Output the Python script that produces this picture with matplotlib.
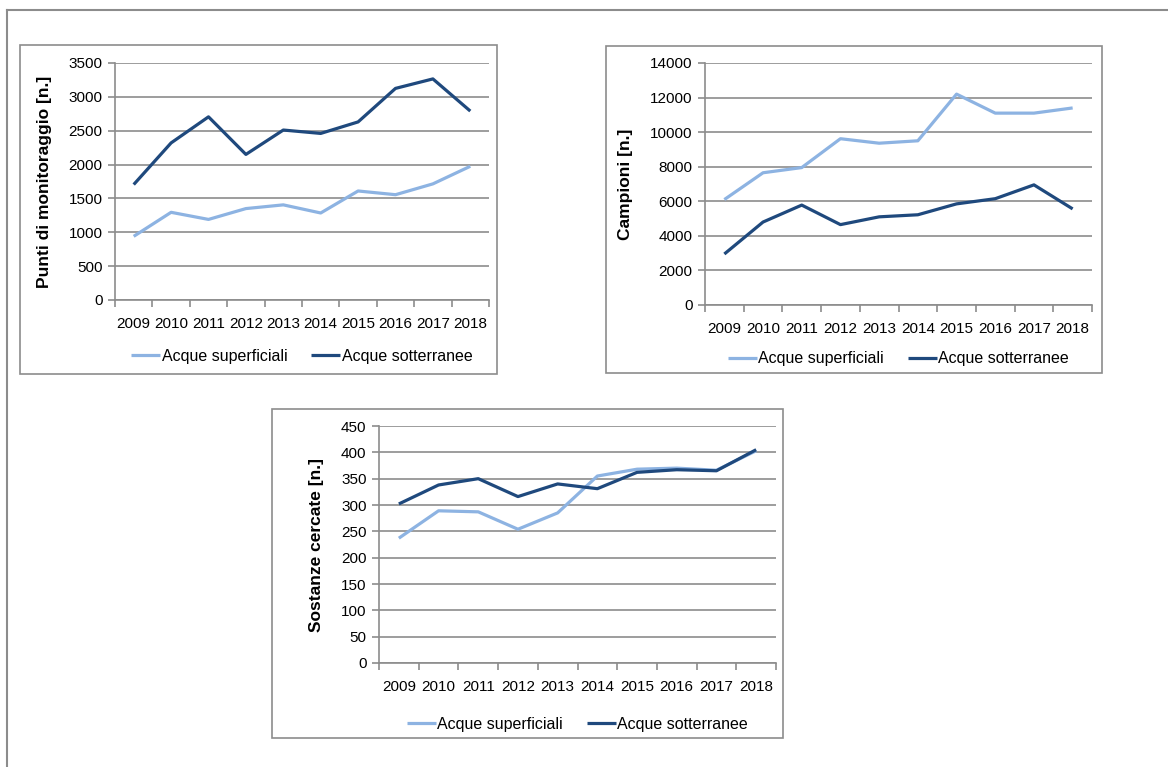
import numpy as np
import matplotlib.pyplot as plt
from matplotlib.lines import Line2D
from matplotlib.patches import Rectangle
from matplotlib import font_manager

# ---------------------------------------------------------------------------
# Data
# ---------------------------------------------------------------------------
YEARS = ["2009", "2010", "2011", "2012", "2013", "2014", "2015", "2016", "2017", "2018"]

punti_sup = [940, 1295, 1190, 1350, 1405, 1285, 1610, 1555, 1715, 1975]
punti_sott = [1705, 2320, 2705, 2150, 2510, 2460, 2630, 3125, 3265, 2790]

campioni_sup = [6100, 7650, 7950, 9620, 9360, 9500, 12200, 11100, 11100, 11400]
campioni_sott = [2950, 4800, 5780, 4650, 5100, 5220, 5850, 6150, 6950, 5560]

sostanze_sup = [237, 289, 287, 254, 285, 355, 368, 370, 366, 403]
sostanze_sott = [302, 338, 350, 316, 340, 331, 362, 367, 365, 405]

SERIES_LABELS = ["Acque superficiali", "Acque sotterranee"]

# ---------------------------------------------------------------------------
# Style
# ---------------------------------------------------------------------------
LIGHT = "#8db3e2"
DARK = "#1f497d"
GRID = "#8c8c8c"
FRAME = "#8c8c8c"

names = {f.name for f in font_manager.fontManager.ttflist}
FONT = "Liberation Sans Narrow" if "Liberation Sans Narrow" in names else "Liberation Sans"
plt.rcParams["font.family"] = [FONT, "DejaVu Sans"]

W, H = 1168, 767
fig = plt.figure(figsize=(W / 100, H / 100), dpi=100)


def px_box(x0, y0, x1, y1):
    """pixel box (top-left origin) -> figure fraction rect"""
    return [x0 / W, 1 - y1 / H, (x1 - x0) / W, (y1 - y0) / H]


# outer frame (top and left edges only visible)
fig.add_artist(Line2D([7 / W, 1.0], [1 - 10 / H, 1 - 10 / H], color=FRAME, lw=1.5))
fig.add_artist(Line2D([7 / W, 7 / W], [1 - 10 / H, 0.0], color=FRAME, lw=1.5))


def panel(box, plot, sup, sott, ymax, ystep, ylabel, leg_y):
    bx0, by0, bx1, by1 = box
    fig.add_artist(Rectangle((bx0 / W, 1 - by1 / H), (bx1 - bx0) / W, (by1 - by0) / H,
                             fill=False, edgecolor=FRAME, lw=1.2))
    ax = fig.add_axes(px_box(*plot))
    x = np.arange(len(YEARS))
    l1, = ax.plot(x, sup, color=LIGHT, lw=2.3, solid_capstyle="butt", zorder=3)
    l2, = ax.plot(x, sott, color=DARK, lw=2.3, solid_capstyle="butt", zorder=4)
    ax.set_xlim(-0.5, len(YEARS) - 0.5)
    ax.set_ylim(0, ymax)
    ax.set_yticks(np.arange(0, ymax + 1, ystep))
    ax.yaxis.grid(True, color=GRID, lw=1.2)
    ax.set_axisbelow(True)
    ax.set_xticks(x)
    ax.set_xticklabels(YEARS)
    ax.set_xticks(np.arange(-0.5, len(YEARS)), minor=True)
    ax.tick_params(axis="x", which="major", length=0, pad=12, labelsize=11)
    ax.tick_params(axis="x", which="minor", length=5, color=GRID, width=1.2)
    ax.tick_params(axis="y", length=5, color=GRID, width=1.2, labelsize=11, pad=4)
    for s in ("top", "right"):
        ax.spines[s].set_visible(False)
    for s in ("left", "bottom"):
        ax.spines[s].set_color(GRID)
        ax.spines[s].set_linewidth(1.2)
    ax.set_ylabel(ylabel, fontsize=12.5, fontweight="bold", family=["Liberation Sans", "DejaVu Sans"],
                  labelpad=12)
    cx = (plot[0] + plot[2]) / 2 / W
    fig.legend([l1, l2], SERIES_LABELS, loc="center", bbox_to_anchor=(cx, 1 - leg_y / H),
               ncol=2, frameon=False, fontsize=11.5, handlelength=1.8, handletextpad=0.1,
               columnspacing=1.5)
    return ax


panel((20, 45, 497, 374), (115, 63, 489, 300), punti_sup, punti_sott,
      3500, 500, "Punti di monitoraggio [n.]", 356)
panel((606, 46, 1102, 373), (705, 63, 1092, 305), campioni_sup, campioni_sott,
      14000, 2000, "Campioni [n.]", 359)
panel((272, 409, 783, 738), (379, 426, 776, 663), sostanze_sup, sostanze_sott,
      450, 50, "Sostanze cercate [n.]", 724)

fig.savefig("out.png", dpi=100)
